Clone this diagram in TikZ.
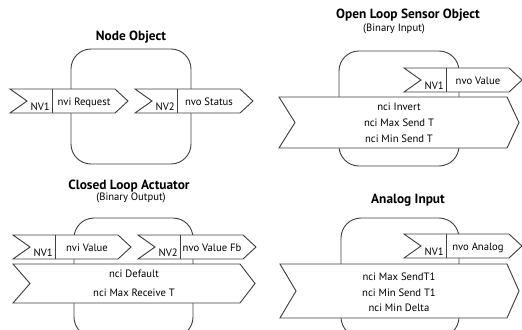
\documentclass[tikz,border=0pt]{standalone}
\usepackage{fontspec}
\setmainfont{PT Sans}
\begin{document}
\begin{tikzpicture}[
    x=0.75pt, y=-0.75pt,
    obj/.style={draw=black!75, line width=0.7pt, rounded corners=15pt},
    flag/.style={draw=black!75, line width=0.7pt, fill=white},
    title/.style={font=\bfseries, inner sep=0pt},
    sub/.style={font=\footnotesize, inner sep=0pt},
    lbl/.style={font=\footnotesize, inner sep=0pt},
    band/.style={font=\footnotesize, align=center, inner sep=0pt}
  ]
  \useasboundingbox (0,0) rectangle (522,329);
  \clip (0,0) rectangle (522,329);

  % titles
  \node (t1) at (131,37)  [title] {Node Object};
  \node (t2) at (408,15)  [title] {Open Loop Sensor Object};
  \node (s2) at (394,29)  [sub]   {(Binary Input)};
  \node (t3) at (129,186) [title] {Closed Loop Actuator};
  \node (s3) at (131,198) [sub]   {(Binary Output)};
  \node (t4) at (408,200) [title] {Analog Input};

  % object bodies
  \draw [obj] (71,49)   rectangle (191,164);
  \draw [obj] (339,51)  rectangle (459,166);
  \draw [obj] (74,218)  rectangle (193,337);
  \draw [obj] (341,218) rectangle (459,337);

  % configuration bands
  \draw [flag] (279,97) -- (507,97) -- (519,122.5) -- (507,148) -- (279,148) -- (295,122.5) -- cycle;
  \draw [flag] (13,264) -- (240,264) -- (255,283.5) -- (240,303) -- (13,303) -- (30,283.5) -- cycle;
  \draw [flag] (280,264) -- (507,264) -- (519,291) -- (507,318) -- (280,318) -- (296,291) -- cycle;
  \node (c2) at (399,123) [band] {nci Invert\\[2.5pt]nci Max Send T\\[2.5pt]nci Min Send T};
  \node (c3) at (134,283.5) [band] {nci Default\\[4.5pt]nci Max Receive T};
  \node (c4) at (399,292.5) [band] {nci Max SendT1\\[2pt]nci Min Send T1\\[2pt]nci Min Delta};

  % network variables
  \foreach \fx/\fy/\nv/\nvname [count=\i] in {10/89/NV1/nvi Request, 135/89/NV2/nvo Status,
      404/68/NV1/nvo Value, 13/235/NV1/nvi Value, 138/235/NV2/nvo Value Fb, 404/234/NV1/nvo Analog} {
    \draw [flag] (\fx,\fy) -- ++(105,0) -- ++(13,12) -- ++(-13,12) -- ++(-105,0) -- ++(17,-12) -- cycle;
    \draw [flag] (\fx+42,\fy) -- ++(0,24);
    \node (nv\i) at (\fx+40,\fy+21) [lbl, anchor=base east] {\nv};
    \node (nn\i) at (\fx+74,\fy+16) [lbl, anchor=base] {\nvname};
  }
\end{tikzpicture}
\end{document}
